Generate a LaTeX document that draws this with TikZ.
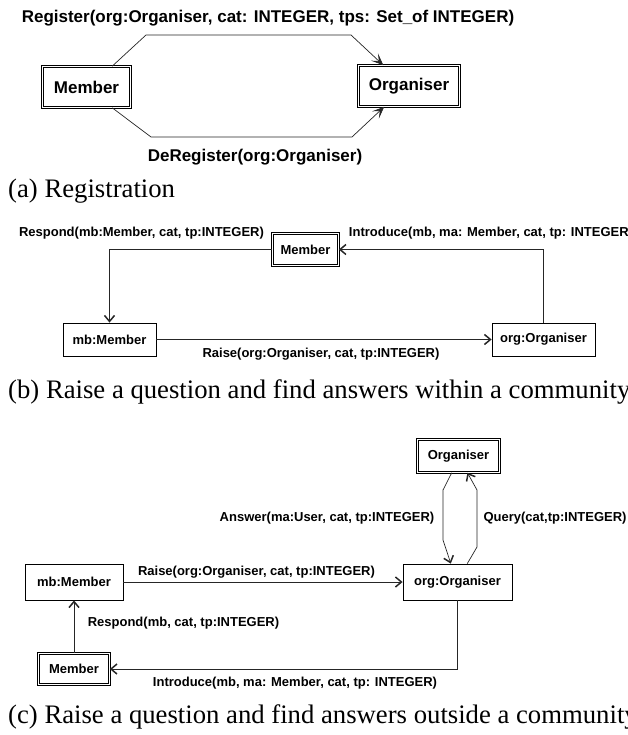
\documentclass[tikz,border=0pt]{standalone}
\usepackage{fontspec}
\setmainfont{Liberation Serif}
\newfontfamily\diafont{Liberation Sans}
\usetikzlibrary{arrows.meta}

\tikzset{
  box/.style={draw, line width=0.8pt, inner sep=0pt, font=\diafont\bfseries\fontsize{13}{15}\selectfont},
  dbox/.style={box, double, double distance=1.6pt, line width=0.6pt},
  big/.style={font=\diafont\bfseries\fontsize{17}{19}\selectfont},
  lbl/.style={inner sep=0pt, font=\diafont\bfseries\fontsize{13}{15}\selectfont},
  conn/.style={draw=black!85, line width=0.7pt, -{Straight Barb[length=6pt,width=10pt,line width=1.5pt]}},
  regconn/.style={draw=black!85, line width=0.7pt, -{Stealth[length=12pt,width=10pt,inset=6pt]}},
  caption/.style={anchor=base west, inner sep=0pt, font=\fontsize{26.7}{30}\selectfont}
}

\begin{document}
\begin{tikzpicture}[x=1pt,y=-1pt]
  \useasboundingbox (0,0) rectangle (628,735);
  \clip (0,0) rectangle (628,735);

  % (a) Registration
  \node[dbox, big, minimum width=88pt, minimum height=41pt] (memA) at (86.5,87) {Member};
  \node[dbox, big, minimum width=101pt, minimum height=41pt] (orgA) at (409,86) {Organiser};

  \draw[regconn] (memA.39) -- (146,35) -- (351,35) -- (orgA.141);
  \draw[regconn] (memA.-39) -- (151,137) -- (352,137) -- (orgA.-140);

  \node[lbl, big] (register) at (268,18) {Register(org:Organiser, cat: INTEGER, tps: Set\_of INTEGER)};
  \node[lbl, big] (deregister) at (255,157) {DeRegister(org:Organiser)};
  \node[caption] (capA) at (8,197) {(a) Registration};

  % (b) within a community
  \node[dbox, minimum width=66pt, minimum height=32pt] (memB) at (305.5,249.5) {Member};
  \node[box, minimum width=93pt, minimum height=33pt] (mbB) at (109.5,339.5) {mb:Member};
  \node[box, minimum width=103pt, minimum height=33pt] (orgB) at (543.5,339.5) {org:Organiser};

  \draw[conn] (memB.west) -| (mbB.north);
  \draw[conn] (mbB.east) -- (orgB.west);
  \draw[conn] (orgB.north) |- (memB.east);

  \node[lbl] (respondB) at (141.5,233) {Respond(mb:Member, cat, tp:INTEGER)};
  \node[lbl] (introduceB) at (491,233) {Introduce(mb, ma: Member, cat, tp: INTEGER)};
  \node[lbl] (raiseB) at (321,354) {Raise(org:Organiser, cat, tp:INTEGER)};
  \node[caption] (capB) at (8,398) {(b) Raise a question and find answers within a community};

  % (c) outside a community
  \node[dbox, minimum width=82pt, minimum height=33pt] (orgC2) at (458.5,456) {Organiser};
  \node[box, minimum width=109pt, minimum height=36pt] (orgC) at (457.5,582) {org:Organiser};
  \node[box, minimum width=98pt, minimum height=36pt] (mbC) at (74,582) {mb:Member};
  \node[dbox, minimum width=71pt, minimum height=31pt] (memC) at (74,669) {Member};

  \draw[conn] (mbC.east) -- (orgC.west);
  \draw[conn] (orgC2.-112) -- (443,490) -- (443,540) -- (orgC.110);
  \draw[conn] (orgC.62) -- (477,547) -- (477,490) -- (orgC2.-62);
  \draw[conn] (memC.north) -- (mbC.south);
  \draw[conn] (orgC.south) |- (memC.east);

  \node[lbl] (raiseC) at (256.5,572) {Raise(org:Organiser, cat, tp:INTEGER)};
  \node[lbl] (answerC) at (327,518) {Answer(ma:User, cat, tp:INTEGER)};
  \node[lbl] (queryC) at (555,518) {Query(cat,tp:INTEGER)};
  \node[lbl] (respondC) at (183.5,623) {Respond(mb, cat, tp:INTEGER)};
  \node[lbl] (introduceC) at (295,683) {Introduce(mb, ma: Member, cat, tp: INTEGER)};
  \node[caption] (capC) at (8,723) {(c) Raise a question and find answers outside a community};
\end{tikzpicture}
\end{document}
